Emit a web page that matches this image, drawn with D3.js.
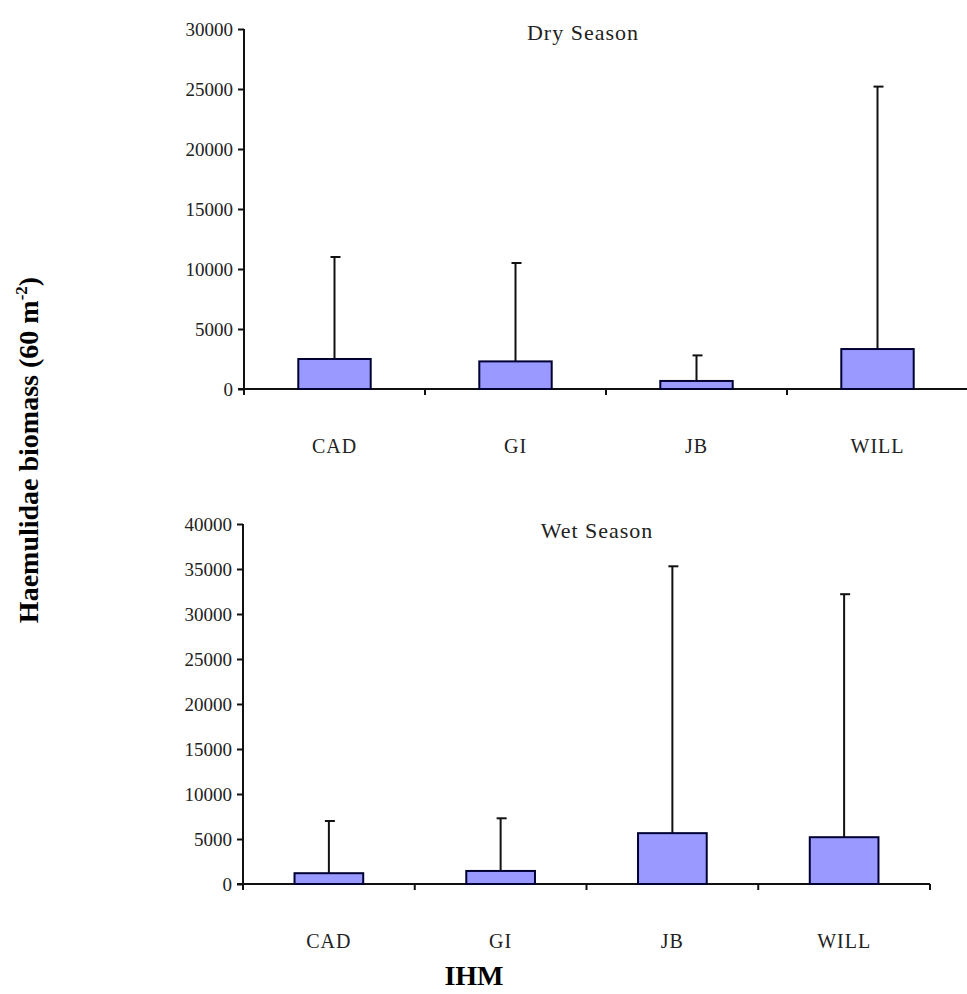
<!DOCTYPE html>
<html>
<head>
<meta charset="utf-8">
<script src="https://cdn.jsdelivr.net/npm/d3@7"></script>
<style>
  html, body { margin: 0; padding: 0; background: #fff; }
  svg { display: block; }
</style>
</head>
<body>
<svg id="chart" width="967" height="994"></svg>
<script>
// Sites sampled
const sites = ["CAD", "GI", "JB", "WILL"];

// Dry season: mean biomass and upper error bar end
const dryMean  = [2500, 2300, 670, 3330];
const dryUpper = [11000, 10500, 2800, 25200];
const dryTicks = [0, 5000, 10000, 15000, 20000, 25000, 30000];

// Wet season: mean biomass and upper error bar end
const wetMean  = [1200, 1450, 5650, 5200];
const wetUpper = [7000, 7300, 35300, 32200];
const wetTicks = [0, 5000, 10000, 15000, 20000, 25000, 30000, 35000, 40000];

const svg = d3.select("#chart");
const serif = '"Liberation Serif", "Times New Roman", serif';
const barFill = "#9999FF";
const ink = "#111";

function panel(cfg) {
  const g = svg.append("g");
  const x = d3.scaleBand().domain(sites).range([cfg.x0, cfg.x1]).padding(0);
  const y = d3.scaleLinear().domain([0, cfg.max]).range([cfg.y0, cfg.y1]);
  const bw = x.bandwidth() * 0.4;

  // y axis
  const yAxis = d3.axisLeft(y).tickValues(cfg.ticks).tickSize(6).tickPadding(5)
    .tickFormat(d3.format("d"));
  const ya = g.append("g").attr("transform", `translate(${cfg.x0},0)`).call(yAxis)
    .attr("font-family", serif).attr("font-size", 19);
  ya.select(".domain").attr("stroke", ink).attr("stroke-width", 2).attr("d", `M0,${cfg.y0}V${cfg.y1}`);
  ya.selectAll(".tick line").attr("stroke", ink).attr("stroke-width", 2);
  ya.selectAll(".tick text").attr("fill", "#222");

  // x axis: ticks at category boundaries
  const xa = g.append("g").attr("transform", `translate(0,${cfg.y0})`);
  xa.append("line").attr("x1", cfg.x0 - 6).attr("x2", cfg.x1)
    .attr("stroke", ink).attr("stroke-width", 2);
  const bounds = sites.map(s => x(s)).concat([cfg.x1]);
  xa.selectAll("line.tk").data(bounds).join("line").attr("class", "tk")
    .attr("x1", d => d).attr("x2", d => d).attr("y1", 0).attr("y2", 6)
    .attr("stroke", ink).attr("stroke-width", 2);
  xa.selectAll("text").data(sites).join("text")
    .attr("x", d => x(d) + x.bandwidth() / 2).attr("y", 64)
    .attr("text-anchor", "middle").attr("font-family", serif)
    .attr("font-size", 20).attr("letter-spacing", 1).attr("fill", "#222")
    .text(d => d);

  // error bars (upper only) drawn behind bars
  g.selectAll("line.err").data(sites).join("line").attr("class", "err")
    .attr("x1", d => x(d) + x.bandwidth() / 2).attr("x2", d => x(d) + x.bandwidth() / 2)
    .attr("y1", (d, i) => y(cfg.mean[i])).attr("y2", (d, i) => y(cfg.upper[i]))
    .attr("stroke", ink).attr("stroke-width", 2);
  g.selectAll("line.cap").data(sites).join("line").attr("class", "cap")
    .attr("x1", d => x(d) + x.bandwidth() / 2 - 4).attr("x2", d => x(d) + x.bandwidth() / 2 + 6)
    .attr("y1", (d, i) => y(cfg.upper[i])).attr("y2", (d, i) => y(cfg.upper[i]))
    .attr("stroke", ink).attr("stroke-width", 2);

  // bars
  g.selectAll("rect.bar").data(sites).join("rect").attr("class", "bar")
    .attr("x", d => x(d) + (x.bandwidth() - bw) / 2).attr("width", bw)
    .attr("y", (d, i) => y(cfg.mean[i])).attr("height", (d, i) => cfg.y0 - y(cfg.mean[i]))
    .attr("fill", barFill).attr("stroke", "#000033").attr("stroke-width", 2);

  // panel title
  g.append("text").attr("x", cfg.titleX).attr("y", cfg.titleY)
    .attr("text-anchor", "middle").attr("font-family", serif).attr("font-size", 22)
    .attr("letter-spacing", 1).attr("fill", "#222").text(cfg.title);
}

panel({ mean: dryMean, upper: dryUpper, ticks: dryTicks, max: 30000,
        x0: 244, x1: 968, y0: 389, y1: 29, title: "Dry Season", titleX: 583, titleY: 40 });
panel({ mean: wetMean, upper: wetUpper, ticks: wetTicks, max: 40000,
        x0: 243, x1: 930, y0: 884, y1: 524, title: "Wet Season", titleX: 597, titleY: 538 });

// shared axis titles
svg.append("text")
  .attr("transform", "translate(38,450) rotate(-90)")
  .attr("text-anchor", "middle").attr("font-family", serif).attr("font-weight", "bold")
  .attr("font-size", 28).attr("fill", "#000")
  .call(t => {
    t.append("tspan").text("Haemulidae biomass (60 m");
    t.append("tspan").attr("font-size", 17).attr("dy", -11).text("-2");
    t.append("tspan").attr("dy", 11).text(")");
  });

svg.append("text").attr("x", 474).attr("y", 985)
  .attr("text-anchor", "middle").attr("font-family", serif).attr("font-weight", "bold")
  .attr("font-size", 28).attr("fill", "#000").text("IHM");
</script>
</body>
</html>
